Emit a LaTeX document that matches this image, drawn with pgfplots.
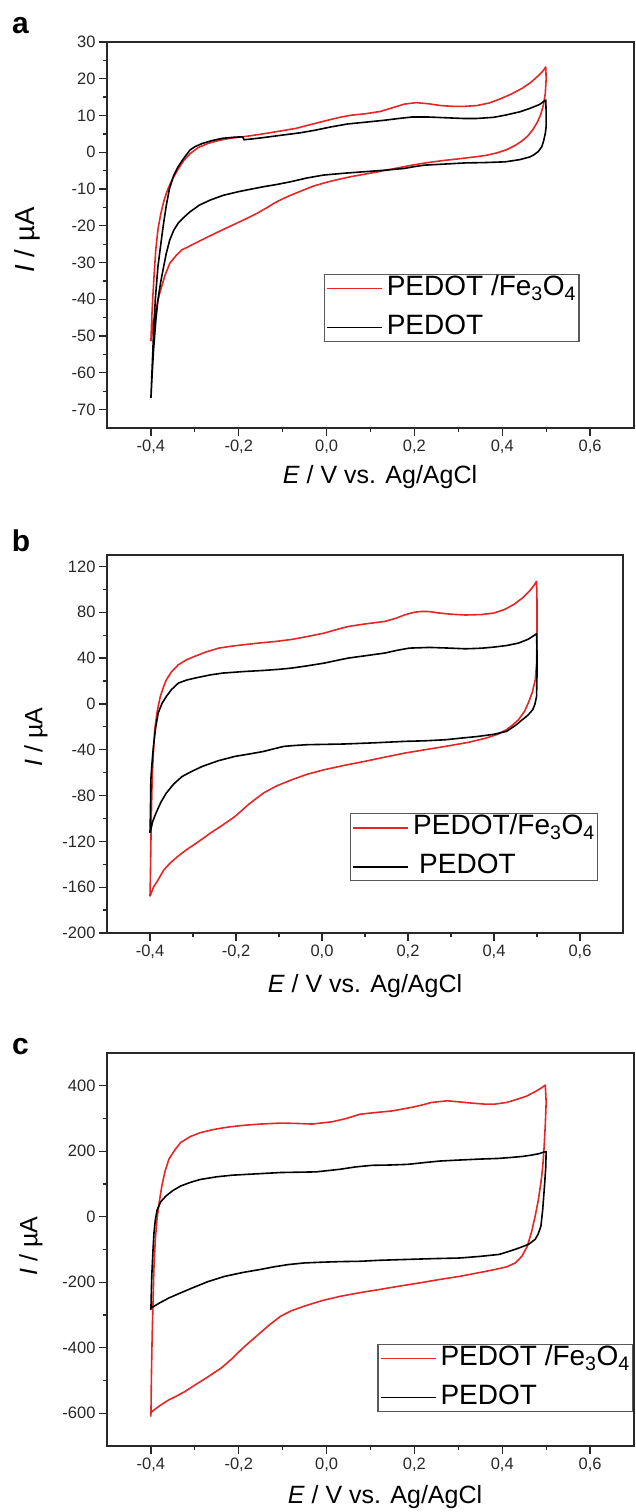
\documentclass[border=0pt]{standalone}
\usepackage{fontspec}
\setmainfont{Liberation Sans}
\usepackage{pgfplots}
\pgfplotsset{compat=1.18}
\definecolor{cvred}{RGB}{228,38,38}
\definecolor{axgray}{RGB}{40,40,40}

\pgfplotsset{cvaxis/.style={
  scale only axis, anchor=south west,
  xmin=-0.5, xmax=0.7,
  xtick={-0.4,-0.2,0,0.2,0.4,0.6},
  xticklabels={{-0,4},{-0,2},{0,0},{0,2},{0,4},{0,6}},
  minor x tick num=1, minor y tick num=1,
  tick align=outside, tick pos=left,
  major tick length=8pt, minor tick length=4.5pt,
  tick style={line width=1.3pt, axgray},
  axis line style={line width=1.6pt, axgray},
  tick label style={font=\fontsize{16.5}{18}\selectfont, text=axgray},
  every axis plot/.append style={line width=1.6pt, line join=round},
  legend cell align=left,
  legend style={anchor=north west, draw=black!65, line width=1.2pt,
    font=\fontsize{28}{30}\selectfont, inner xsep=2pt, inner ysep=0pt,
    row sep=11pt, column sep=3pt,
    nodes={inner sep=1pt, text height=20pt, text depth=6pt}},
  legend image code/.code={\draw[#1] (0pt,0pt) -- (55pt,0pt);},
}}

\begin{document}
\begin{tikzpicture}
\useasboundingbox (0pt,0pt) rectangle (635pt,1512pt);

% ---------- panel a ----------
\begin{axis}[cvaxis, at={(107pt,1084pt)}, width=527pt, height=386pt,
  ymin=-75, ymax=30,
  ytick={-70,-60,-50,-40,-30,-20,-10,0,10,20,30},
  yticklabels={-70,-60,-50,-40,-30,-20,-10,0,10,20,30},
  legend style={at={(0.411,0.399)}}]
\addplot[cvred] coordinates {
(-0.400,-51.4) (-0.398,-45) (-0.396,-40) (-0.392,-32) (-0.389,-26.6) (-0.384,-21) (-0.378,-17) (-0.370,-13) (-0.362,-10.2) (-0.352,-7.5) (-0.338,-4.6) (-0.325,-2.2) (-0.31,-0.3) (-0.292,1.3) (-0.27,2.4) (-0.246,3.2) (-0.22,3.8) (-0.191,4.2) (-0.15,4.9) (-0.099,5.9) (-0.07,6.5) (-0.044,7.3) (0.002,8.7) (0.03,9.5) (0.057,10.1) (0.09,10.5) (0.122,11.1) (0.15,12.1) (0.177,13.1) (0.204,13.5) (0.232,13.2) (0.26,12.7) (0.287,12.5) (0.315,12.5) (0.342,12.7) (0.37,13.4) (0.395,14.5) (0.42,15.8) (0.444,17.3) (0.465,19.0) (0.48,20.6) (0.492,22.0) (0.499,23.2)
(0.500,20) (0.498,16) (0.494,13) (0.488,10.4) (0.48,8.2) (0.47,6.2) (0.458,4.4) (0.444,3.0) (0.43,1.9) (0.41,0.7) (0.39,-0.1) (0.365,-0.8) (0.342,-1.2) (0.30,-1.8) (0.269,-2.2) (0.23,-2.8) (0.195,-3.5) (0.16,-4.3) (0.122,-5.2) (0.085,-6.0) (0.057,-6.6) (0.03,-7.3) (0.002,-8.1) (-0.03,-9.2) (-0.053,-10.3) (-0.08,-11.6) (-0.099,-12.6) (-0.12,-13.9) (-0.136,-15.1) (-0.16,-16.7) (-0.182,-18.0) (-0.21,-19.6) (-0.237,-21.1) (-0.27,-23.0) (-0.302,-24.9) (-0.318,-25.9) (-0.329,-26.5) (-0.342,-28.0) (-0.357,-30.2) (-0.368,-33.5) (-0.38,-38.3) (-0.388,-42.5) (-0.394,-46) (-0.400,-51.4)
};
\addplot[black] coordinates {
(-0.400,-66.8) (-0.397,-58) (-0.394,-49.2) (-0.390,-40) (-0.384,-31.1) (-0.378,-25.5) (-0.372,-20) (-0.365,-14.5) (-0.358,-10.0) (-0.348,-6.3) (-0.338,-3.9) (-0.325,-1.6) (-0.311,0.6) (-0.3,1.5) (-0.283,2.4) (-0.26,3.2) (-0.237,3.8) (-0.21,4.1) (-0.191,4.2) (-0.188,3.4) (-0.15,3.9) (-0.099,4.7) (-0.06,5.3) (-0.026,6.0) (0.01,6.9) (0.048,7.7) (0.09,8.2) (0.131,8.7) (0.165,9.2) (0.195,9.6) (0.23,9.6) (0.269,9.4) (0.31,9.2) (0.342,9.2) (0.38,9.5) (0.407,10.1) (0.44,11.0) (0.462,11.9) (0.485,13.0) (0.499,14.2)
(0.500,11) (0.500,7) (0.498,5.1) (0.494,3.0) (0.49,1.5) (0.482,0.2) (0.472,-0.7) (0.462,-1.3) (0.44,-2.0) (0.407,-2.6) (0.36,-2.8) (0.315,-2.9) (0.27,-3.2) (0.223,-3.5) (0.195,-4.0) (0.177,-4.4) (0.13,-4.9) (0.085,-5.3) (0.04,-5.7) (-0.007,-6.2) (-0.045,-7.0) (-0.081,-8.0) (-0.115,-8.8) (-0.145,-9.4) (-0.175,-10.1) (-0.2,-10.7) (-0.235,-11.7) (-0.265,-13.0) (-0.29,-14.4) (-0.311,-16.2) (-0.326,-17.8) (-0.338,-19.3) (-0.348,-21.2) (-0.357,-23.8) (-0.365,-27.5) (-0.371,-31.1) (-0.378,-35.5) (-0.384,-40.1) (-0.389,-46) (-0.394,-53.7) (-0.397,-60) (-0.400,-66.8)
};
\legend{PEDOT /Fe\textsubscript{3}O\textsubscript{4}, PEDOT}
\end{axis}

% ---------- panel b ----------
\begin{axis}[cvaxis, at={(107pt,579pt)}, width=516pt, height=378pt,
  ymin=-200, ymax=130,
  ytick={-200,-160,-120,-80,-40,0,40,80,120},
  yticklabels={-200,-160,-120,-80,-40,0,40,80,120},
  legend style={at={(0.471,0.317)}}]
\addplot[cvred] coordinates {
(-0.400,-168) (-0.399,-150) (-0.398,-124) (-0.397,-100) (-0.395,-66) (-0.392,-42) (-0.389,-22.5) (-0.383,-6) (-0.376,6.5) (-0.369,14.5) (-0.362,21) (-0.35,28) (-0.334,34.2) (-0.315,38.5) (-0.296,41.5) (-0.27,45.3) (-0.24,48.7) (-0.21,50.4) (-0.183,51.6) (-0.145,53.2) (-0.108,54.5) (-0.07,56.3) (-0.033,58.9) (0.005,61.8) (0.035,65) (0.061,67.6) (0.1,69.8) (0.146,72) (0.17,74.5) (0.193,77.8) (0.215,80) (0.231,80.7) (0.25,80.6) (0.269,79.5) (0.3,78.3) (0.334,77.6) (0.37,78.0) (0.4,79.3) (0.425,82.5) (0.447,87) (0.468,93) (0.485,99.6) (0.494,104) (0.499,107)
(0.500,90) (0.500,60) (0.499,35) (0.496,21) (0.489,10) (0.48,1) (0.471,-6.5) (0.457,-13.8) (0.443,-18.5) (0.429,-22.5) (0.41,-26.3) (0.382,-29.8) (0.34,-33.6) (0.287,-37.1) (0.24,-40.0) (0.193,-42.9) (0.146,-46.5) (0.099,-50.2) (0.05,-53.8) (0.005,-57.5) (-0.035,-61.5) (-0.07,-66.2) (-0.105,-71.5) (-0.136,-77.8) (-0.17,-87.5) (-0.202,-98.2) (-0.23,-105.5) (-0.259,-112.7) (-0.29,-121) (-0.315,-127.3) (-0.335,-133) (-0.353,-138.9) (-0.368,-145) (-0.381,-153.5) (-0.392,-160) (-0.400,-168)
};
\addplot[black] coordinates {
(-0.400,-112.7) (-0.399,-95) (-0.398,-66) (-0.395,-50) (-0.392,-37.1) (-0.387,-21) (-0.381,-8) (-0.372,0.5) (-0.362,6.5) (-0.35,12.5) (-0.334,18.2) (-0.315,20.8) (-0.296,22.5) (-0.26,25.3) (-0.231,26.9) (-0.18,28.3) (-0.136,29.2) (-0.1,30.2) (-0.07,31.3) (-0.035,33.2) (0.005,35.6) (0.035,38) (0.061,40) (0.1,42) (0.146,44.4) (0.175,46.8) (0.203,48.7) (0.25,49.3) (0.29,48.8) (0.334,48.1) (0.37,48.6) (0.4,49.6) (0.43,51.0) (0.457,53.1) (0.48,56.5) (0.499,61.2)
(0.500,45) (0.500,25) (0.499,6.5) (0.495,-0.5) (0.49,-5.1) (0.479,-9.8) (0.466,-13.8) (0.45,-18.8) (0.429,-24) (0.4,-26.5) (0.363,-28.4) (0.32,-30.0) (0.287,-31.3) (0.24,-32.2) (0.193,-32.7) (0.12,-34) (0.052,-35) (0.01,-35.3) (-0.033,-35.6) (-0.06,-36.2) (-0.089,-37.1) (-0.115,-39.5) (-0.136,-41.5) (-0.17,-43.8) (-0.202,-45.8) (-0.24,-49.5) (-0.278,-54.5) (-0.305,-59.3) (-0.325,-63.3) (-0.345,-70) (-0.362,-77.8) (-0.375,-86) (-0.386,-95.3) (-0.394,-103) (-0.400,-112.7)
};
\legend{PEDOT/Fe\textsubscript{3}O\textsubscript{4}, \hspace{6pt}PEDOT}
\end{axis}

% ---------- panel c ----------
\begin{axis}[cvaxis, at={(107pt,66pt)}, width=527pt, height=393pt,
  ymin=-700, ymax=500,
  ytick={-600,-400,-200,0,200,400},
  yticklabels={-600,-400,-200,0,200,400},
  legend style={at={(0.513,0.26)}}]
\addplot[cvred] coordinates {
(-0.400,-610) (-0.399,-500) (-0.398,-420) (-0.397,-355) (-0.395,-250) (-0.393,-151) (-0.39,-70) (-0.386,-5) (-0.381,45) (-0.375,95) (-0.368,138) (-0.359,176) (-0.345,205) (-0.332,227) (-0.31,245) (-0.287,257) (-0.255,267) (-0.223,274) (-0.19,279) (-0.151,283) (-0.105,286) (-0.07,285) (-0.033,283) (0.013,290) (0.045,300) (0.076,313) (0.11,318) (0.149,323) (0.194,334) (0.22,342) (0.239,349) (0.275,354) (0.3,351) (0.33,347) (0.36,344) (0.384,344) (0.41,349) (0.43,357) (0.455,368) (0.475,382) (0.49,394) (0.498,402)
(0.500,350) (0.498,280) (0.495,206) (0.492,150) (0.488,104) (0.482,50) (0.475,2) (0.467,-45) (0.457,-90) (0.445,-120) (0.43,-141) (0.41,-153) (0.384,-161) (0.35,-170) (0.303,-182) (0.26,-191) (0.212,-202) (0.165,-212) (0.121,-222) (0.075,-232) (0.031,-243) (-0.01,-256) (-0.051,-273) (-0.08,-287) (-0.105,-304) (-0.13,-330) (-0.16,-365) (-0.19,-400) (-0.214,-432) (-0.24,-462) (-0.269,-488) (-0.3,-514) (-0.323,-534) (-0.345,-550) (-0.359,-559) (-0.38,-577) (-0.393,-590) (-0.400,-598) (-0.400,-610)
};
\addplot[black] coordinates {
(-0.400,-284) (-0.399,-230) (-0.398,-180) (-0.397,-151) (-0.395,-95) (-0.393,-49) (-0.390,-10) (-0.386,20) (-0.378,45) (-0.366,63) (-0.35,80) (-0.332,94) (-0.31,105) (-0.287,114) (-0.25,122) (-0.214,127) (-0.16,131) (-0.105,135) (-0.065,136) (-0.024,137) (0.031,145) (0.065,152) (0.103,157) (0.145,158) (0.185,160) (0.22,165) (0.257,170) (0.3,173) (0.348,176) (0.39,178) (0.42,181) (0.445,184) (0.466,188) (0.485,193) (0.498,199)
(0.500,199) (0.499,150) (0.497,110) (0.495,73) (0.492,20) (0.488,-29) (0.482,-52) (0.475,-69) (0.46,-84) (0.439,-95) (0.415,-106) (0.393,-115) (0.35,-121) (0.303,-126) (0.24,-128) (0.167,-131) (0.12,-133) (0.076,-136) (0.03,-137) (-0.015,-139) (-0.05,-141) (-0.087,-146) (-0.12,-153) (-0.151,-161) (-0.19,-170) (-0.232,-182) (-0.27,-198) (-0.305,-217) (-0.335,-234) (-0.359,-248) (-0.38,-263) (-0.4,-279) (-0.400,-284)
};
\legend{PEDOT /Fe\textsubscript{3}O\textsubscript{4}, PEDOT}
\end{axis}

% ---------- labels ----------
\node[font=\fontsize{30}{32}\selectfont\bfseries] at (20.5pt,1486.5pt) {a};
\node[font=\fontsize{30}{32}\selectfont\bfseries] at (21pt,971pt) {b};
\node[font=\fontsize{30}{32}\selectfont\bfseries] at (20.5pt,465pt) {c};

\node[rotate=90, font=\fontsize{27.5}{30}\selectfont] at (27pt,1272pt) {\textit{I} / µA};
\node[rotate=90, font=\fontsize{25}{28}\selectfont] at (36pt,775pt) {\textit{I} / µA};
\node[rotate=90, font=\fontsize{25}{28}\selectfont] at (31pt,266pt) {\textit{I} / µA};

\node[font=\fontsize{25}{28}\selectfont] at (380pt,1035pt) {\textit{E} / V vs. Ag/AgCl};
\node[font=\fontsize{25}{28}\selectfont] at (365pt,526pt) {\textit{E} / V vs. Ag/AgCl};
\node[font=\fontsize{25}{28}\selectfont] at (385pt,15pt) {\textit{E} / V vs. Ag/AgCl};
\end{tikzpicture}
\end{document}
